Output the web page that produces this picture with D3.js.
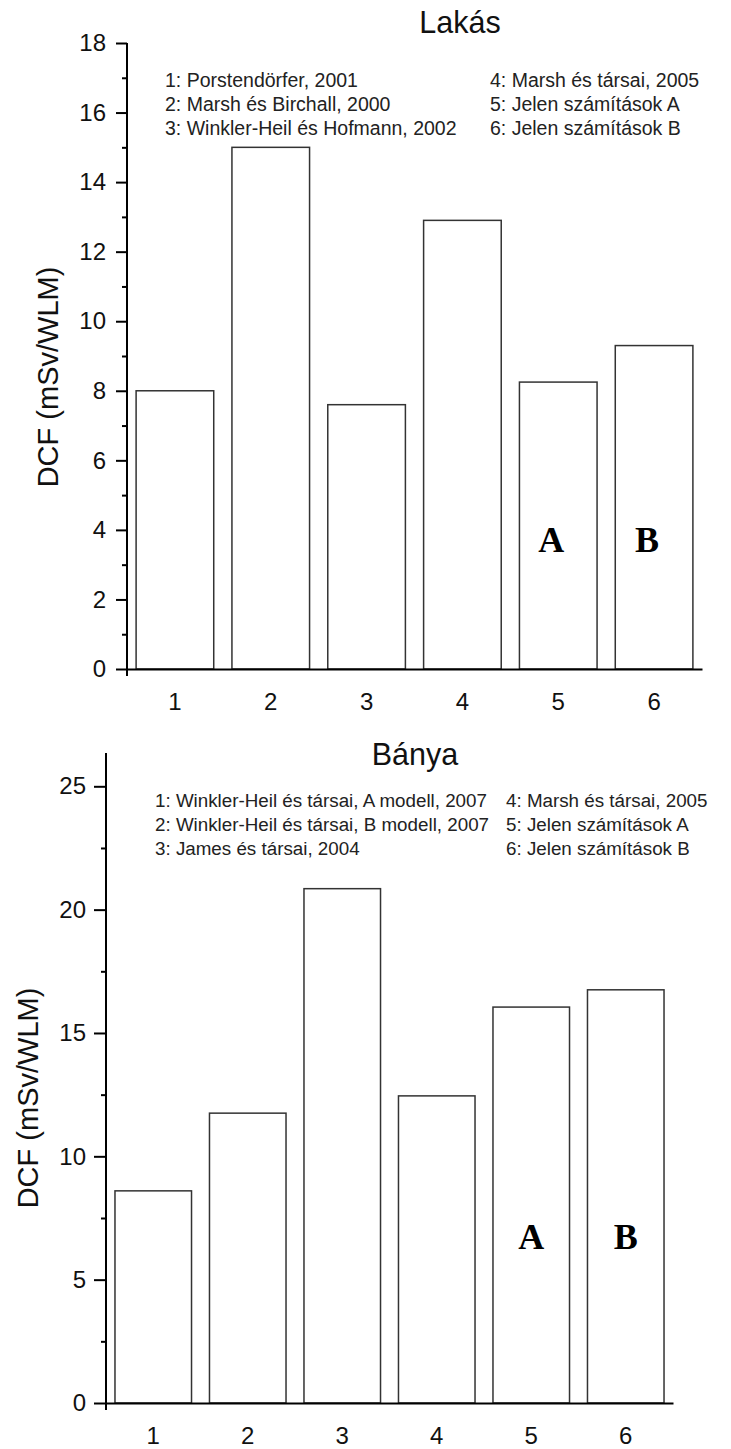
<!DOCTYPE html>
<html>
<head>
<meta charset="utf-8">
<script src="https://cdn.jsdelivr.net/npm/d3@7"></script>
<style>
  body { margin: 0; background: #fff; }
  svg { display: block; }
</style>
</head>
<body>
<svg id="chart"></svg>
<script>
// adatok
const categories = ['1', '2', '3', '4', '5', '6'];

const lakasValues = [8.0, 15.0, 7.6, 12.9, 8.25, 9.3];
const banyaValues = [8.6, 11.75, 20.85, 12.45, 16.05, 16.75];

const lakasTicks = [0, 2, 4, 6, 8, 10, 12, 14, 16, 18];
const lakasMinor = [1, 3, 5, 7, 9, 11, 13, 15, 17];
const banyaTicks = [0, 5, 10, 15, 20, 25];
const banyaMinor = [2.5, 7.5, 12.5, 17.5, 22.5];

const lakasLegendLeft = ['1: Porstendörfer, 2001', '2: Marsh és Birchall, 2000', '3: Winkler-Heil és Hofmann, 2002'];
const lakasLegendRight = ['4: Marsh és társai, 2005', '5: Jelen számítások A', '6: Jelen számítások B'];
const banyaLegendLeft = ['1: Winkler-Heil és társai, A modell, 2007', '2: Winkler-Heil és társai, B modell, 2007', '3: James és társai, 2004'];
const banyaLegendRight = ['4: Marsh és társai, 2005', '5: Jelen számítások A', '6: Jelen számítások B'];

// A / B feliratok: [kategória, betű, érték]
const lakasMarks = [['5', 'A', 3.37], ['6', 'B', 3.37]];
const banyaMarks = [['5', 'A', 6.25], ['6', 'B', 6.25]];

const W = 731, H = 1449;
const sans = "Arial, 'Liberation Sans', sans-serif";
const serif = "'Times New Roman', 'Liberation Serif', serif";

const svg = d3.select('#chart').attr('width', W).attr('height', H);
svg.append('rect').attr('width', W).attr('height', H).attr('fill', '#fff');

function drawPanel(p) {
  const g = svg.append('g');

  const x = d3.scaleBand()
    .domain(categories)
    .range([p.left, p.right])
    .paddingInner(0.19)
    .paddingOuter(0.095);

  const y = d3.scaleLinear()
    .domain([0, p.yMax])
    .range([p.bottom, p.top]);

  // oszlopok
  g.append('g')
    .selectAll('rect')
    .data(p.values)
    .join('rect')
    .attr('x', (d, i) => x(categories[i]))
    .attr('y', d => y(d))
    .attr('width', x.bandwidth())
    .attr('height', d => y(0) - y(d))
    .attr('fill', '#fff')
    .attr('stroke', '#333')
    .attr('stroke-width', 1.5);

  // y tengely - fő osztások
  const yAxis = g.append('g')
    .attr('transform', `translate(${p.left},0)`)
    .call(d3.axisLeft(y).tickValues(p.ticks).tickSize(p.tickLen).tickPadding(p.tickPad).tickSizeOuter(0));
  yAxis.select('.domain').remove();
  yAxis.selectAll('line').attr('stroke', '#000').attr('stroke-width', 2);
  yAxis.selectAll('text')
    .attr('font-family', sans)
    .attr('font-size', 24)
    .attr('fill', '#111');

  // mellék osztások
  const yMinor = g.append('g')
    .attr('transform', `translate(${p.left},0)`)
    .call(d3.axisLeft(y).tickValues(p.minor).tickSize(5).tickFormat('').tickSizeOuter(0));
  yMinor.select('.domain').remove();
  yMinor.selectAll('line').attr('stroke', '#000').attr('stroke-width', 2);

  // tengelyvonalak
  g.append('line')
    .attr('x1', p.left).attr('x2', p.left)
    .attr('y1', y(p.yMax)).attr('y2', y(0) + 7)
    .attr('stroke', '#000').attr('stroke-width', 2);

  const xAxis = g.append('g')
    .attr('transform', `translate(0,${y(0)})`)
    .call(d3.axisBottom(x).tickSize(0).tickPadding(24).tickSizeOuter(0));
  xAxis.select('.domain').attr('stroke', '#000').attr('stroke-width', 2);
  xAxis.selectAll('text')
    .attr('font-family', sans)
    .attr('font-size', 24)
    .attr('fill', '#111');

  // cím
  g.append('text')
    .attr('x', p.titleX).attr('y', p.titleY)
    .attr('text-anchor', 'middle')
    .attr('font-family', sans)
    .attr('font-size', 30.5)
    .attr('fill', '#111')
    .text(p.title);

  // y felirat
  g.append('text')
    .attr('transform', `translate(${p.labelX},${(y(0) + y(p.yMax)) / 2 + p.labelShift}) rotate(-90)`)
    .attr('text-anchor', 'middle')
    .attr('dominant-baseline', 'central')
    .attr('font-family', sans)
    .attr('font-size', 29)
    .attr('fill', '#111')
    .text('DCF (mSv/WLM)');

  // jelmagyarázat
  [[p.legendLeft, p.legX1], [p.legendRight, p.legX2]].forEach(([lines, lx]) => {
    g.append('g')
      .selectAll('text')
      .data(lines)
      .join('text')
      .attr('x', lx)
      .attr('y', (d, i) => p.legY + i * p.legStep)
      .attr('font-family', sans)
      .attr('font-size', p.legSize)
      .attr('fill', '#222')
      .text(d => d);
  });

  // A / B
  g.append('g')
    .selectAll('text')
    .data(p.marks)
    .join('text')
    .attr('x', d => x(d[0]) + x.bandwidth() / 2 + p.markShift)
    .attr('y', d => y(d[2]))
    .attr('text-anchor', 'middle')
    .attr('font-family', serif)
    .attr('font-weight', 'bold')
    .attr('font-size', 36)
    .attr('fill', '#000')
    .text(d => d[1]);
}

drawPanel({
  title: 'Lakás', values: lakasValues, ticks: lakasTicks, minor: lakasMinor, yMax: 18,
  left: 127, right: 702, top: 43, bottom: 669, tickLen: 11, tickPad: 10,
  titleX: 460, titleY: 33, labelX: 48, labelShift: 21,
  legendLeft: lakasLegendLeft, legendRight: lakasLegendRight,
  legX1: 165, legX2: 490, legY: 87, legStep: 24, legSize: 19.5,
  marks: lakasMarks, markShift: -7
});

drawPanel({
  title: 'Bánya', values: banyaValues, ticks: banyaTicks, minor: banyaMinor, yMax: 26.35,
  left: 106, right: 673, top: 753, bottom: 1403, tickLen: 12, tickPad: 8,
  titleX: 415, titleY: 765, labelX: 28, labelShift: 20,
  legendLeft: banyaLegendLeft, legendRight: banyaLegendRight,
  legX1: 155, legX2: 506, legY: 807, legStep: 24, legSize: 18.8,
  marks: banyaMarks, markShift: 0
});
</script>
</body>
</html>
